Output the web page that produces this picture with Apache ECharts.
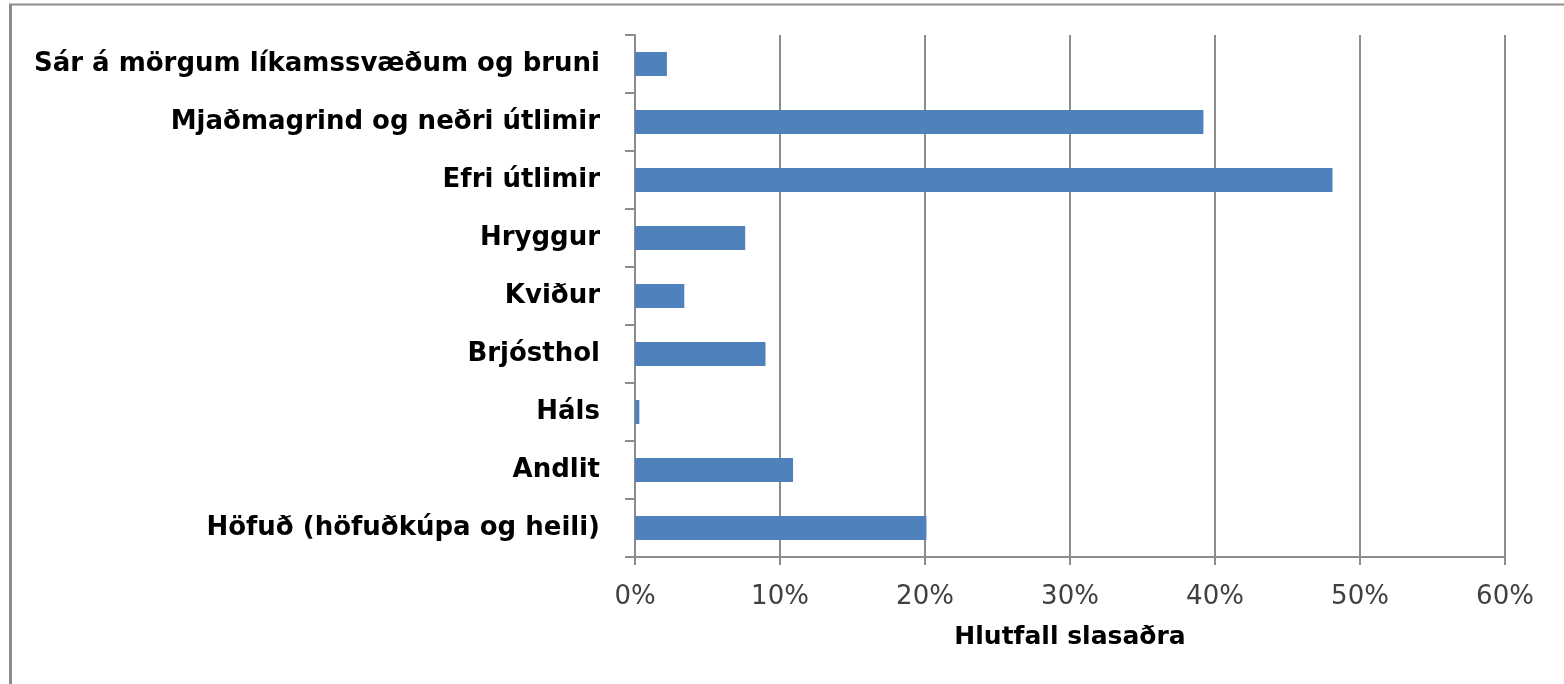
<!DOCTYPE html>
<html>
<head>
<meta charset="utf-8">
<script src="https://cdn.jsdelivr.net/npm/echarts@6/dist/echarts.min.js"></script>
<style>
html,body{margin:0;padding:0;background:#fff;}
#chart{width:1564px;height:684px;}
</style>
</head>
<body>
<div id="chart"></div>
<script>
const categories = [
  'Höfuð (höfuðkúpa og heili)',
  'Andlit',
  'Háls',
  'Brjósthol',
  'Kviður',
  'Hryggur',
  'Efri útlimir',
  'Mjaðmagrind og neðri útlimir',
  'Sár á mörgum líkamssvæðum og bruni'
];
const values = [20.1, 10.9, 0.3, 9.0, 3.4, 7.6, 48.1, 39.2, 2.2];
const axisName = 'Hlutfall slasaðra';

const chart = echarts.init(document.getElementById('chart'));
chart.setOption({
  animation: false,
  backgroundColor: '#ffffff',
  grid: { left: 635, right: 59, top: 35, bottom: 127 },
  xAxis: {
    type: 'value',
    min: 0, max: 60, interval: 10,
    name: axisName,
    nameLocation: 'middle',
    nameGap: 68,
    nameTextStyle: { fontFamily: 'DejaVu Sans', fontWeight: 'bold', fontSize: 25, color: '#000' },
    axisLine: { show: true, lineStyle: { color: '#8c8c8c', width: 2 } },
    axisTick: { show: true, length: 8, lineStyle: { color: '#8c8c8c', width: 2 } },
    axisLabel: { formatter: '{value}%', fontFamily: 'DejaVu Sans', fontSize: 26, color: '#404040', margin: 27 },
    splitLine: { show: true, lineStyle: { color: '#8c8c8c', width: 2 } }
  },
  yAxis: {
    type: 'category',
    data: categories,
    axisLine: { show: true, lineStyle: { color: '#8c8c8c', width: 2 } },
    axisTick: { show: true, length: 10, inside: false, lineStyle: { color: '#8c8c8c', width: 2 } },
    axisLabel: { fontFamily: 'DejaVu Sans', fontWeight: 'bold', fontSize: 26, color: '#000', margin: 35 },
    splitLine: { show: false }
  },
  series: [{
    type: 'bar',
    data: values,
    barWidth: 24,
    itemStyle: { color: '#4F81BD' }
  }],
  graphic: [
    { type: 'line', shape: { x1: 10.5, y1: 4, x2: 10.5, y2: 684 }, style: { stroke: '#8c8c8c', lineWidth: 3 } },
    { type: 'line', shape: { x1: 9, y1: 4.5, x2: 1564, y2: 4.5 }, style: { stroke: '#8c8c8c', lineWidth: 2 } }
  ]
});
</script>
</body>
</html>
